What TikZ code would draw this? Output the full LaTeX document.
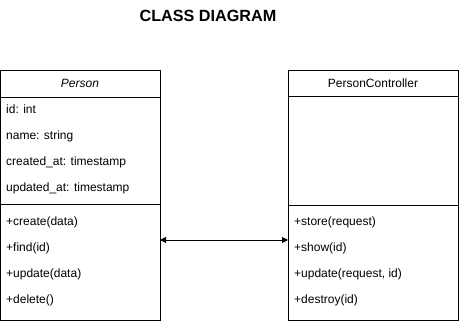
\documentclass[tikz,border=0pt]{standalone}
\usepackage{fontspec}
\setmainfont{Liberation Sans}
\usetikzlibrary{arrows.meta}
\begin{document}
\begin{tikzpicture}[x=1pt,y=-1pt,
  box/.style={draw=black,line width=0.9pt},
  member/.style={anchor=base west,inner sep=0pt,font=\fontsize{12}{14}\selectfont},
  header/.style={anchor=base,inner sep=0pt,font=\fontsize{12}{14}\selectfont},
  assoc/.style={line width=0.9pt,{Triangle[length=6pt,width=6pt]}-{Triangle[length=6pt,width=6pt]}}]
\useasboundingbox[fill=white] (0,0) rectangle (459,321);

\node[anchor=base,font=\fontsize{16.2}{19}\bfseries] (title) at (208,22) {CLASS DIAGRAM};

% Person class
\draw[box] (0.5,70) rectangle (160,320);
\draw[box] (0.5,97) -- (160,97);
\draw[box] (0.5,204) -- (160,204);
\coordinate (personR) at (160,240);
\node[header,font=\fontsize{12}{14}\itshape] (pname) at (80,88) {Person};
\node[member] (p1) at (6,113.5) {id: int};
\node[member] (p2) at (6,139.5) {name: string};
\node[member] (p3) at (6,165.5) {created\_at: timestamp};
\node[member] (p4) at (6,191.5) {updated\_at: timestamp};
\node[member] (p5) at (6,225.5) {+create(data)};
\node[member] (p6) at (6,251.5) {+find(id)};
\node[member] (p7) at (6,277.5) {+update(data)};
\node[member] (p8) at (6,303.5) {+delete()};

% PersonController class
\draw[box] (288,70) rectangle (458,320);
\draw[box] (288,96) -- (458,96);
\draw[box] (288,205) -- (458,205);
\coordinate (ctrlL) at (288,240);
\node[header] (cname) at (373,88) {PersonController};
\node[member] (c1) at (294,225.5) {+store(request)};
\node[member] (c2) at (294,251.5) {+show(id)};
\node[member] (c3) at (294,277.5) {+update(request, id)};
\node[member] (c4) at (294,303.5) {+destroy(id)};

% association
\draw[assoc] (personR) -- (ctrlL);
\end{tikzpicture}
\end{document}
